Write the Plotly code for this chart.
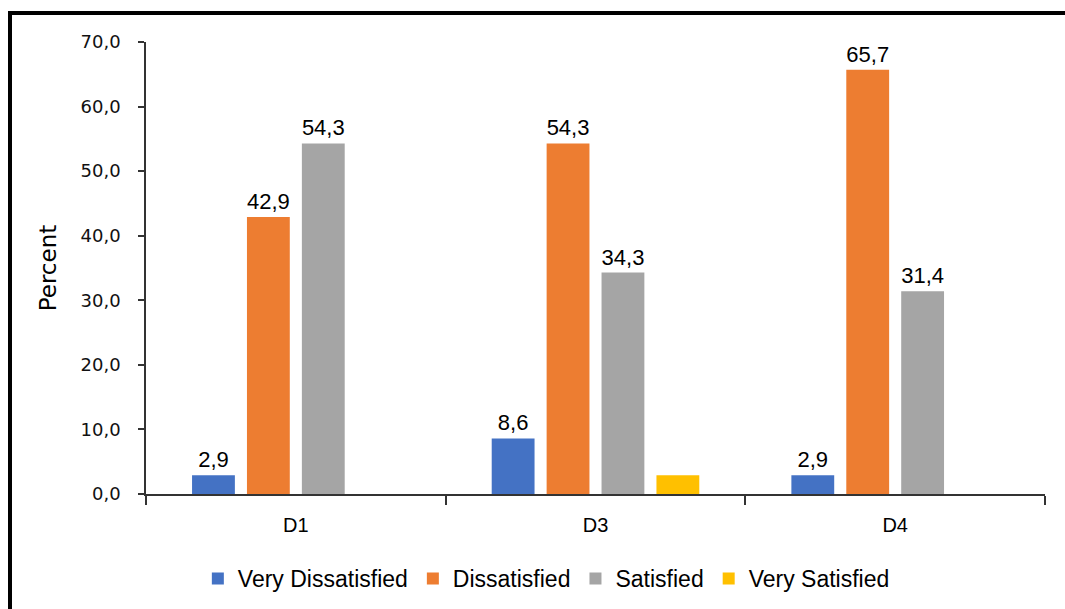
import plotly.graph_objects as go

categories = ["D1", "D3", "D4"]
series_names = ["Very Dissatisfied", "Dissatisfied", "Satisfied", "Very Satisfied"]
very_dissatisfied = [2.9, 8.6, 2.9]
dissatisfied = [42.9, 54.3, 65.7]
satisfied = [54.3, 34.3, 31.4]
very_satisfied = [None, 2.9, None]
show_labels = [[True, True, True], [True, True, True], [True, True, True], [False, False, False]]
colors = ["#4472C4", "#ED7D31", "#A5A5A5", "#FFC000"]

series_values = [very_dissatisfied, dissatisfied, satisfied, very_satisfied]

SANS = "Arial"

fig = go.Figure()
for name, vals, col, show in zip(series_names, series_values, colors, show_labels):
    txt = [(f"{v:.1f}".replace(".", ",") if (v is not None and s) else "") for v, s in zip(vals, show)]
    fig.add_trace(go.Bar(
        x=categories, y=vals, name=name, marker=dict(color=col, line=dict(width=0)),
        text=txt, textposition="outside", constraintext="none", cliponaxis=False,
        textfont=dict(family=SANS, size=22, color="#000000"),
    ))

L, R, T, B = 146, 20, 42, 115
W, H = 1065, 609
pw, ph = W - L - R, H - T - B

fig.update_layout(
    width=W, height=H,
    margin=dict(l=L, r=R, t=T, b=B),
    paper_bgcolor="white", plot_bgcolor="white",
    barmode="group", bargap=0.267, bargroupgap=0.22,
    separators=",.",
    showlegend=True,
    legend=dict(orientation="h", xref="container", x=0.513, xanchor="center",
                yref="container", y=0.05, yanchor="middle",
                font=dict(family=SANS, size=23, color="#000000"),
                itemwidth=30, tracegroupgap=0),
    font=dict(family=SANS, color="#000000"),
)
fig.update_yaxes(range=[0, 70], dtick=10, tickformat=".1f", showgrid=False, zeroline=False,
                 showline=True, linecolor="#333333", linewidth=1.5,
                 ticks="outside", ticklen=6, tickcolor="#333333", tickwidth=1.5,
                 ticklabelstandoff=14,
                 tickfont=dict(family="DejaVu Sans, sans-serif", size=18, color="#111111"),
                 title=dict(text="Percent", standoff=18,
                            font=dict(family="DejaVu Sans, sans-serif", size=23, color="#000000")))
fig.update_xaxes(showgrid=False, showline=True, linecolor="#333333", linewidth=1.5,
                 ticks="outside", tickson="boundaries", ticklen=9, tickcolor="#333333", tickwidth=1.5,
                 ticklabelstandoff=12,
                 tickfont=dict(family=SANS, size=20, color="#000000"))

# outer frame (extends beyond right and bottom edges)
fx0 = (10 - L) / pw
fy1 = 1 + (T - 13) / ph
fig.add_shape(type="rect", xref="paper", yref="paper", x0=fx0, x1=1.2, y0=-0.5, y1=fy1,
              line=dict(color="#000000", width=4), fillcolor="rgba(0,0,0,0)", layer="above")

fig.write_html("out.html")
